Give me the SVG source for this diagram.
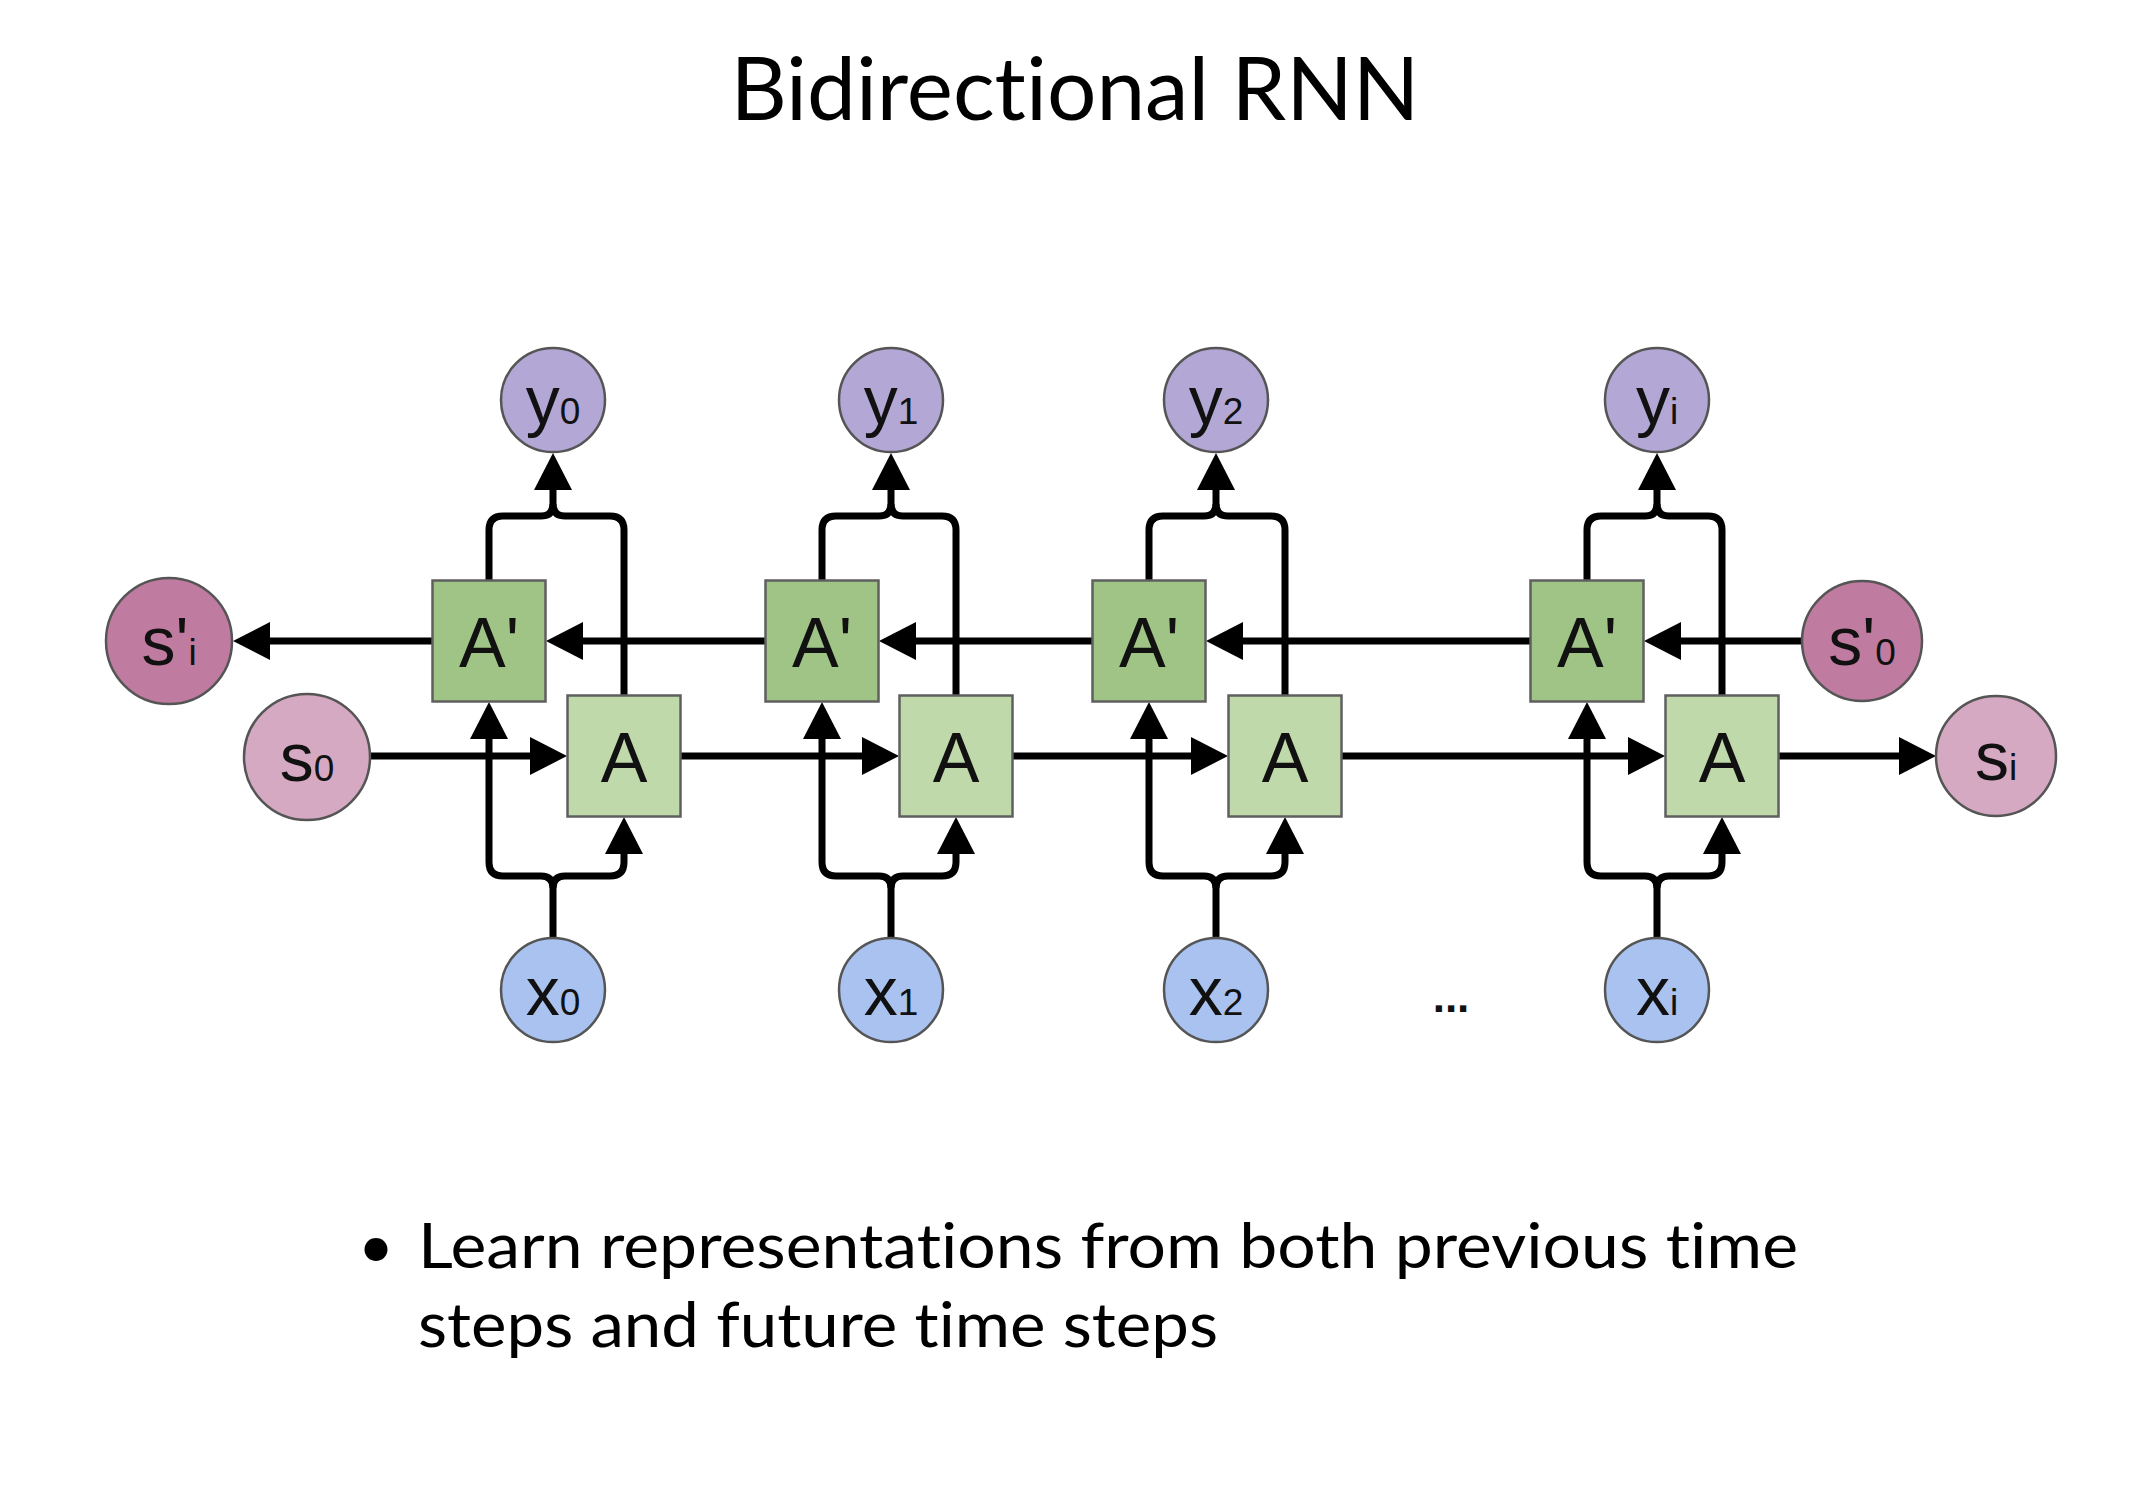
<svg xmlns="http://www.w3.org/2000/svg" width="2134" height="1510" viewBox="0 0 2134 1510">
<style>
.bg{fill:#ffffff}
.ln{fill:none;stroke:#000;stroke-width:7;stroke-linejoin:round}
.box{stroke:#5f5f5f;stroke-width:2.5}
.bp{fill:#9fc486}
.bf{fill:#bfd9ab}
.nd{stroke:#555;stroke-width:2.5}
.cy{fill:#b3a7d6}
.cx{fill:#a9c2ef}
.cs{fill:#d6a9c2}
.cp{fill:#bf7ba0}
.lb{font-family:"Liberation Sans",Arial,sans-serif;font-size:68px;fill:#111;text-anchor:middle}
.sub{font-size:37px}
.bt{font-family:"Liberation Sans",Arial,sans-serif;font-size:70px;fill:#111;text-anchor:middle}
.ttl{font-family:Lato,"Open Sans",sans-serif;font-size:88px;fill:#000;font-variant-ligatures:none;font-feature-settings:"liga" 0,"dlig" 0}
.body{font-family:Lato,"Open Sans",sans-serif;font-size:62px;fill:#000;font-variant-ligatures:none;font-feature-settings:"liga" 0,"dlig" 0}
</style>
<defs>
<marker id="ah" viewBox="0 0 37 38" markerUnits="userSpaceOnUse" markerWidth="37" markerHeight="38" refX="27" refY="19" orient="auto">
<path d="M0,0 L37,19 L0,38 z" fill="#000"/>
</marker>
</defs>
<rect class="bg" x="0" y="0" width="2134" height="1510"/>
<text class="ttl" x="1075" y="120" text-anchor="middle" textLength="689" lengthAdjust="spacingAndGlyphs">Bidirectional RNN</text>

<g id="connectors">
<path class="ln" d="M1802,641 L1654,641" marker-end="url(#ah)"/>
<path class="ln" d="M1530,641 L1216,641" marker-end="url(#ah)"/>
<path class="ln" d="M1092,641 L889,641" marker-end="url(#ah)"/>
<path class="ln" d="M765,641 L556,641" marker-end="url(#ah)"/>
<path class="ln" d="M432,641 L243,641" marker-end="url(#ah)"/>
<path class="ln" d="M370,756 L557,756" marker-end="url(#ah)"/>
<path class="ln" d="M681,756 L889,756" marker-end="url(#ah)"/>
<path class="ln" d="M1013,756 L1218,756" marker-end="url(#ah)"/>
<path class="ln" d="M1342,756 L1655,756" marker-end="url(#ah)"/>
<path class="ln" d="M1779,756 L1926,756" marker-end="url(#ah)"/>
<path class="ln" d="M489,580 V530 Q489,516 503,516 H541 Q553,516 553,504 V463" marker-end="url(#ah)"/>
<path class="ln" d="M624,695 V530 Q624,516 610,516 H565 Q553,516 553,504"/>
<path class="ln" d="M553,938 V888 Q553,876 541,876 H503 Q489,876 489,862 V712" marker-end="url(#ah)"/>
<path class="ln" d="M553,888 Q553,876 565,876 H610 Q624,876 624,862 V827" marker-end="url(#ah)"/>
<path class="ln" d="M822,580 V530 Q822,516 836,516 H879 Q891,516 891,504 V463" marker-end="url(#ah)"/>
<path class="ln" d="M956,695 V530 Q956,516 942,516 H903 Q891,516 891,504"/>
<path class="ln" d="M891,938 V888 Q891,876 879,876 H836 Q822,876 822,862 V712" marker-end="url(#ah)"/>
<path class="ln" d="M891,888 Q891,876 903,876 H942 Q956,876 956,862 V827" marker-end="url(#ah)"/>
<path class="ln" d="M1149,580 V530 Q1149,516 1163,516 H1204 Q1216,516 1216,504 V463" marker-end="url(#ah)"/>
<path class="ln" d="M1285,695 V530 Q1285,516 1271,516 H1228 Q1216,516 1216,504"/>
<path class="ln" d="M1216,938 V888 Q1216,876 1204,876 H1163 Q1149,876 1149,862 V712" marker-end="url(#ah)"/>
<path class="ln" d="M1216,888 Q1216,876 1228,876 H1271 Q1285,876 1285,862 V827" marker-end="url(#ah)"/>
<path class="ln" d="M1587,580 V530 Q1587,516 1601,516 H1645 Q1657,516 1657,504 V463" marker-end="url(#ah)"/>
<path class="ln" d="M1722,695 V530 Q1722,516 1708,516 H1669 Q1657,516 1657,504"/>
<path class="ln" d="M1657,938 V888 Q1657,876 1645,876 H1601 Q1587,876 1587,862 V712" marker-end="url(#ah)"/>
<path class="ln" d="M1657,888 Q1657,876 1669,876 H1708 Q1722,876 1722,862 V827" marker-end="url(#ah)"/>
</g>

<g id="Ap1"><rect class="box bp" x="432.5" y="580.5" width="113" height="121"/><text class="bt" x="489" y="667">A'</text></g>
<g id="A1"><rect class="box bf" x="567.5" y="695.5" width="113" height="121"/><text class="bt" x="624" y="782">A</text></g>
<g id="Ap2"><rect class="box bp" x="765.5" y="580.5" width="113" height="121"/><text class="bt" x="822" y="667">A'</text></g>
<g id="A2"><rect class="box bf" x="899.5" y="695.5" width="113" height="121"/><text class="bt" x="956" y="782">A</text></g>
<g id="Ap3"><rect class="box bp" x="1092.5" y="580.5" width="113" height="121"/><text class="bt" x="1149" y="667">A'</text></g>
<g id="A3"><rect class="box bf" x="1228.5" y="695.5" width="113" height="121"/><text class="bt" x="1285" y="782">A</text></g>
<g id="Ap4"><rect class="box bp" x="1530.5" y="580.5" width="113" height="121"/><text class="bt" x="1587" y="667">A'</text></g>
<g id="A4"><rect class="box bf" x="1665.5" y="695.5" width="113" height="121"/><text class="bt" x="1722" y="782">A</text></g>

<g id="y0"><circle class="nd cy" cx="553" cy="400" r="52"/><text class="lb" x="553" y="424">y<tspan class="sub">0</tspan></text></g>
<g id="y1"><circle class="nd cy" cx="891" cy="400" r="52"/><text class="lb" x="891" y="424">y<tspan class="sub">1</tspan></text></g>
<g id="y2"><circle class="nd cy" cx="1216" cy="400" r="52"/><text class="lb" x="1216" y="424">y<tspan class="sub">2</tspan></text></g>
<g id="yi"><circle class="nd cy" cx="1657" cy="400" r="52"/><text class="lb" x="1657" y="424">y<tspan class="sub">i</tspan></text></g>

<g id="x0"><circle class="nd cx" cx="553" cy="990" r="52"/><text class="lb" x="553" y="1015">x<tspan class="sub">0</tspan></text></g>
<g id="x1"><circle class="nd cx" cx="891" cy="990" r="52"/><text class="lb" x="891" y="1015">x<tspan class="sub">1</tspan></text></g>
<g id="x2"><circle class="nd cx" cx="1216" cy="990" r="52"/><text class="lb" x="1216" y="1015">x<tspan class="sub">2</tspan></text></g>
<g id="xi"><circle class="nd cx" cx="1657" cy="990" r="52"/><text class="lb" x="1657" y="1015">x<tspan class="sub">i</tspan></text></g>

<g id="spi"><circle class="nd cp" cx="169" cy="641" r="63"/><text class="lb" x="169" y="665">s'<tspan class="sub">i</tspan></text></g>
<g id="s0"><circle class="nd cs" cx="307" cy="757" r="63"/><text class="lb" x="307" y="781">s<tspan class="sub">0</tspan></text></g>
<g id="sp0"><circle class="nd cp" cx="1862" cy="641" r="60"/><text class="lb" x="1862" y="665">s'<tspan class="sub">0</tspan></text></g>
<g id="si"><circle class="nd cs" cx="1996" cy="756" r="60"/><text class="lb" x="1996" y="780">s<tspan class="sub">i</tspan></text></g>

<text x="1451" y="1012" font-family="Liberation Sans,Arial,sans-serif" font-size="44" font-weight="bold" text-anchor="middle" fill="#111">...</text>

<text class="body" x="376" y="1268" text-anchor="middle">•</text>
<text class="body" x="418" y="1268" textLength="1380" lengthAdjust="spacingAndGlyphs">Learn representations from both previous time</text>
<text class="body" x="418" y="1347" textLength="800" lengthAdjust="spacingAndGlyphs">steps and future time steps</text>
</svg>
